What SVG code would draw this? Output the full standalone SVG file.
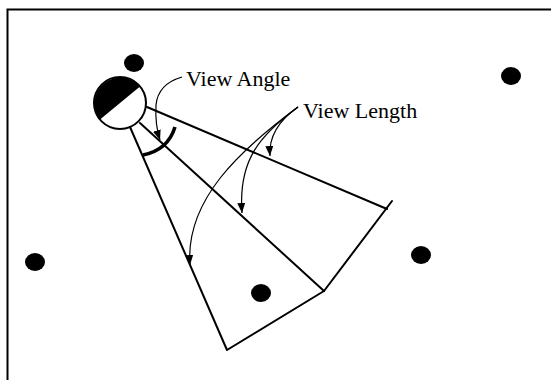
<svg xmlns="http://www.w3.org/2000/svg" width="551" height="380" viewBox="0 0 551 380">
<defs>
<marker id="ah" viewBox="0 0 10 8" refX="10" refY="4" markerWidth="10" markerHeight="8" markerUnits="userSpaceOnUse" orient="auto">
<path d="M0,0 L10,4 L0,8 Z" fill="#000"/>
</marker>
<style>
.ln{stroke:#000;stroke-width:2;fill:none;stroke-linecap:round;stroke-linejoin:round}
.ld{stroke:#000;stroke-width:1.2;fill:none}
.dot{fill:#000}
.lbl{font-family:"Liberation Serif","Times New Roman",serif;font-size:22px;fill:#000}
</style>
</defs>
<rect x="0" y="0" width="551" height="380" fill="#fff"/>
<rect x="7.5" y="9.5" width="600" height="400" fill="none" stroke="#000" stroke-width="2"/>
<g id="dots">
<ellipse class="dot" cx="134" cy="63" rx="10" ry="9"/>
<ellipse class="dot" cx="511" cy="76" rx="10" ry="9"/>
<ellipse class="dot" cx="35" cy="262" rx="10" ry="9"/>
<ellipse class="dot" cx="421" cy="255" rx="10" ry="9"/>
<ellipse class="dot" cx="261" cy="293" rx="10" ry="9"/>
</g>
<g id="viewer">
<circle cx="120" cy="103" r="26" fill="#fff" stroke="#000" stroke-width="2"/>
<path d="M140,86.4 A26,26 0 0 0 100,119.6 Z" fill="#000"/>
</g>
<g id="cone">
<path class="ln" d="M147,107 L387,209"/>
<path class="ln" d="M392,201 L324,291"/>
<path class="ln" d="M140,123 L324,291"/>
<path class="ln" d="M130,127 L227,350 L324,291"/>
<path d="M175,127 Q168,150 143,155" stroke="#000" stroke-width="3.5" fill="none"/>
</g>
<g id="connectors">
<path class="ld" d="M182,77 Q158,84 156,105 Q155,125 160,140" marker-end="url(#ah)"/>
<path class="ld" d="M298,107 Q268,128 270,156" marker-end="url(#ah)"/>
<path class="ld" d="M298,107 C260,135 238,160 242,213" marker-end="url(#ah)"/>
<path class="ld" d="M298,107 C240,150 185,200 190,265" marker-end="url(#ah)"/>
</g>
<g id="labels">
<text class="lbl" x="186" y="86">View Angle</text>
<text class="lbl" x="303" y="118">View Length</text>
</g>
</svg>
